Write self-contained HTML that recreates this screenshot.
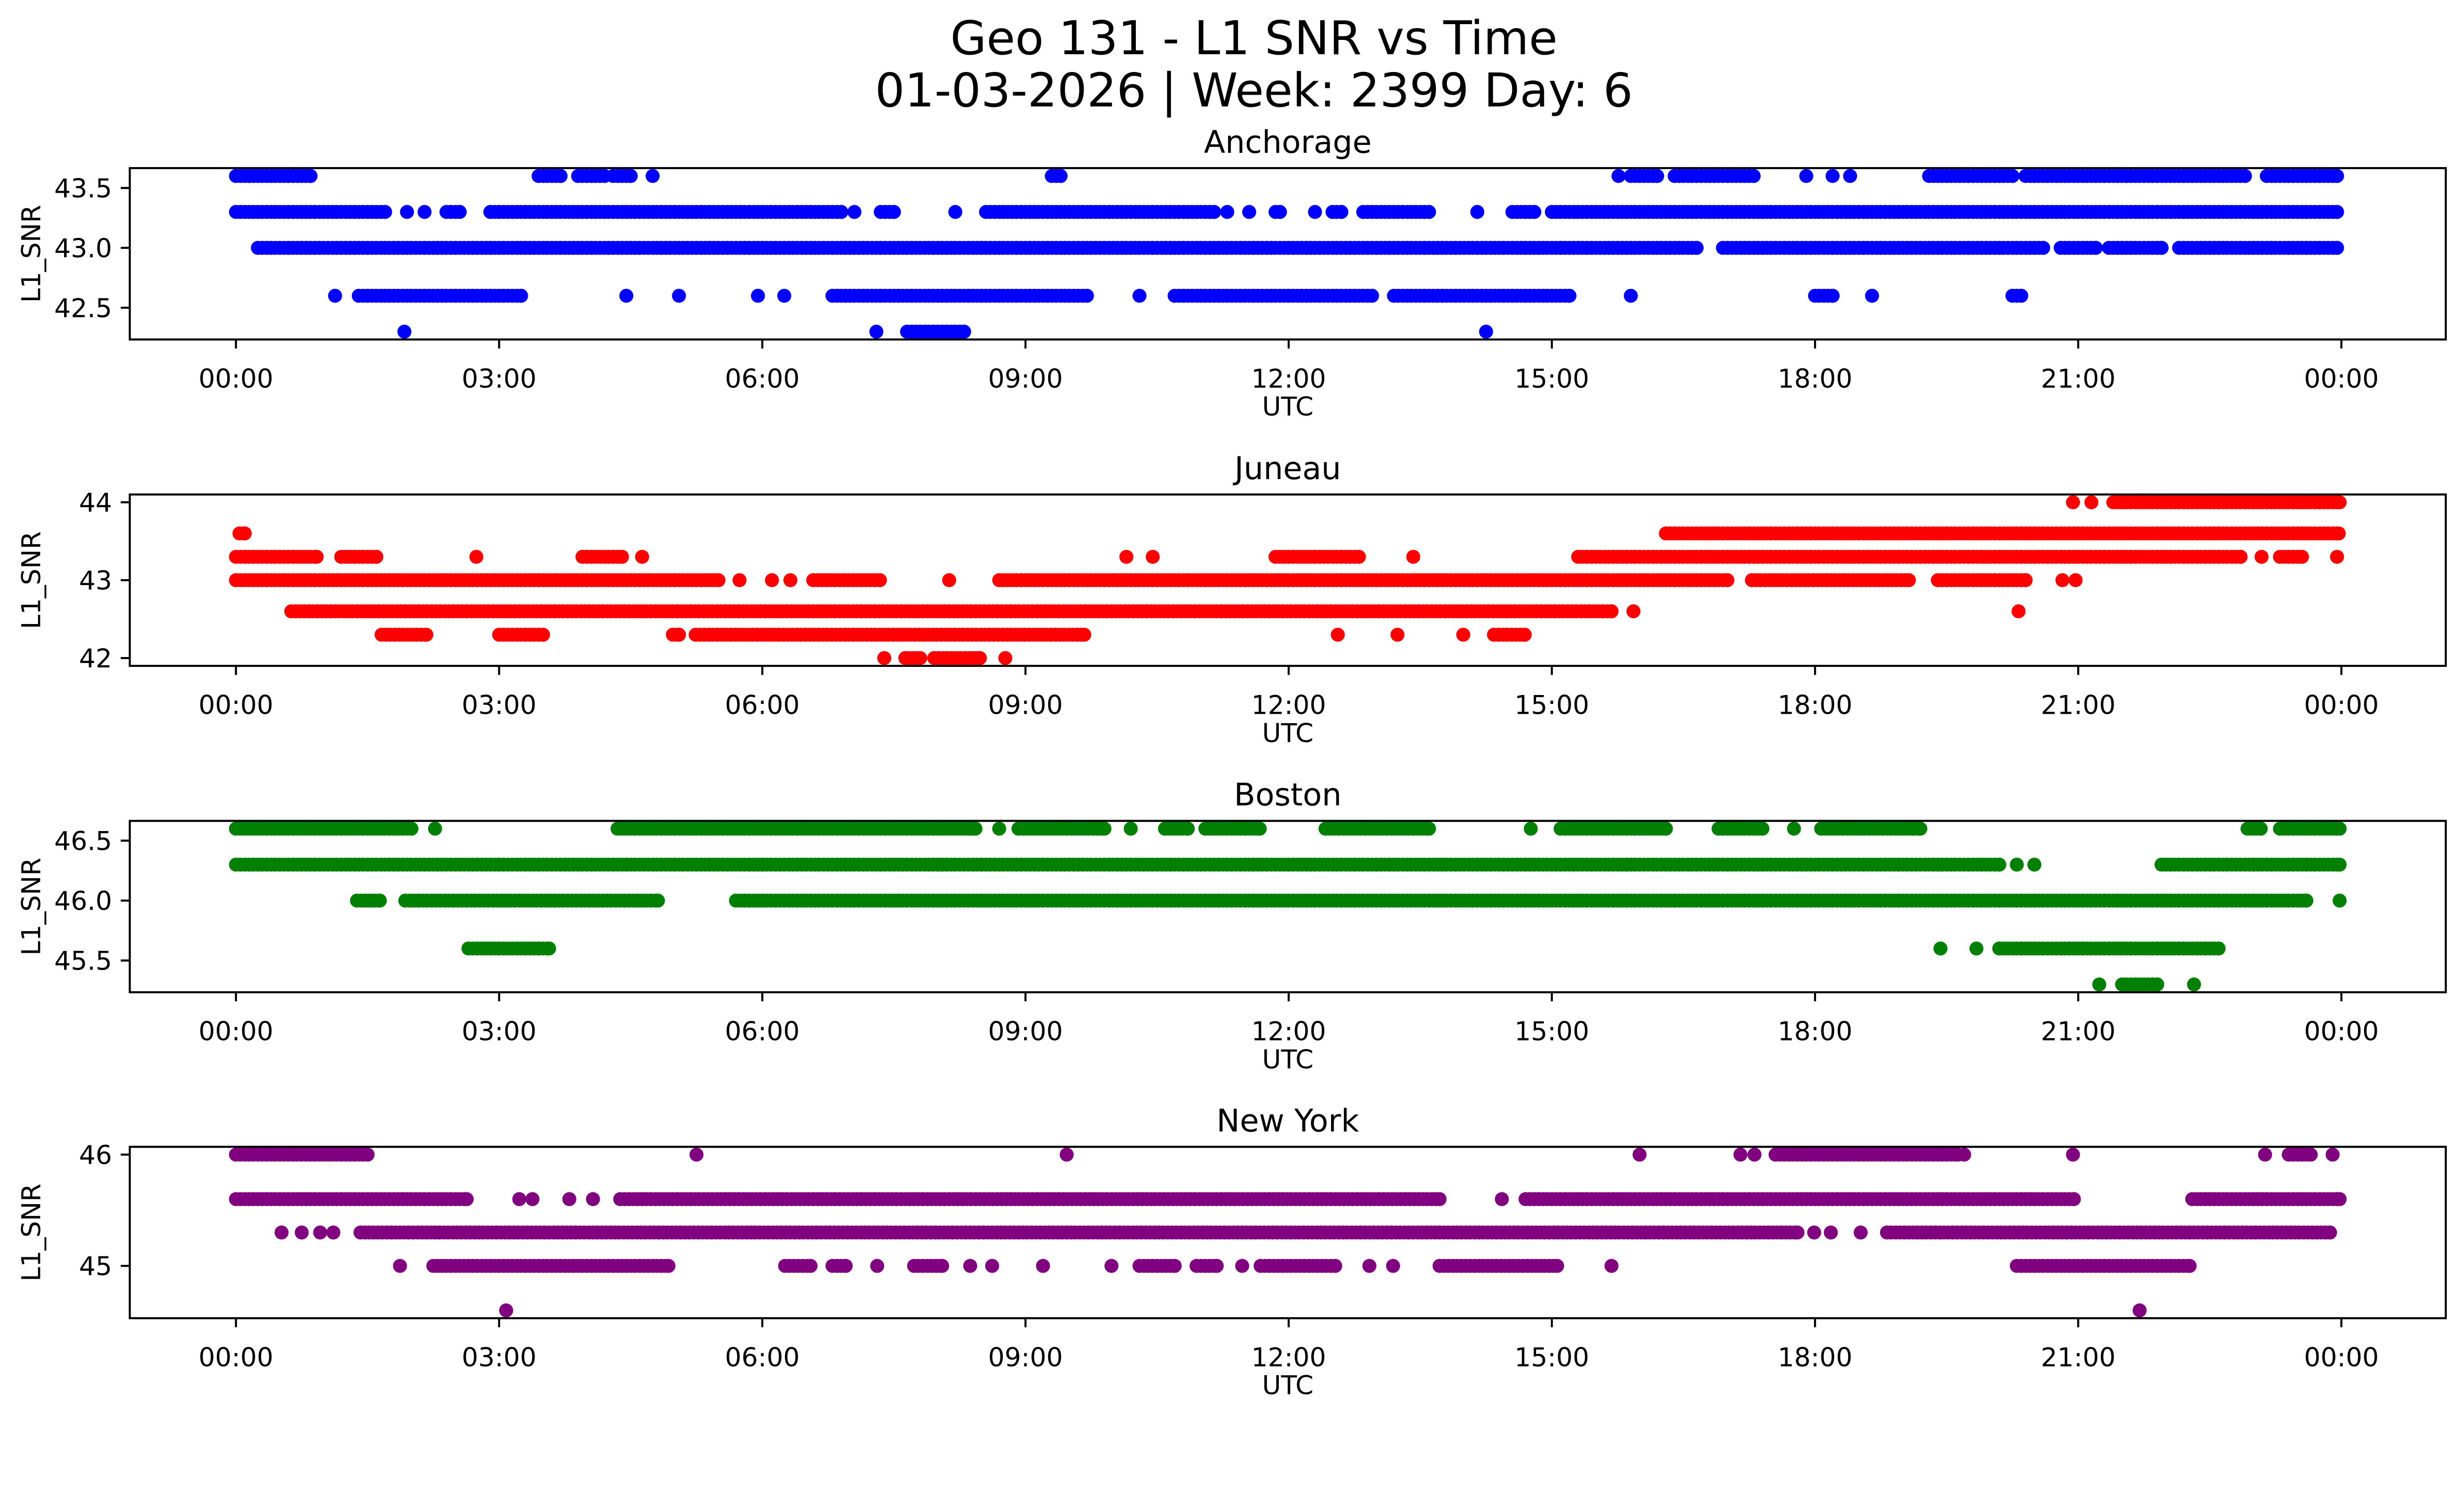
<!DOCTYPE html>
<html><head><meta charset="utf-8"><title>Geo 131 - L1 SNR vs Time</title>
<style>html,body{margin:0;padding:0;background:#fff;overflow:hidden}svg{display:block;width:100vw;height:calc(100vw * 3033 / 5278)}text{font-family:"DejaVu Sans","Liberation Sans",sans-serif;fill:#000}</style>
</head><body>
<svg id="fig" xmlns="http://www.w3.org/2000/svg" viewBox="0 0 5278 3033">
<rect x="0" y="0" width="5278" height="3033" fill="#fff"/>
<text x="2686" y="116" font-size="100" text-anchor="middle">Geo 131 - L1 SNR vs Time</text>
<text x="2686" y="228" font-size="100" text-anchor="middle">01-03-2026 | Week: 2399 Day: 6</text>
<g id="panels"></g>
</svg>
<script>
// x tick labels (hours)
const xTickHours = [0, 3, 6, 9, 12, 15, 18, 21, 24];
const xTickLabels = ["00:00","03:00","06:00","09:00","12:00","15:00","18:00","21:00","00:00"];
// Station names and colours
const stations = ["Anchorage","Juneau","Boston","New York"];
const colors = ["#0000ff","#ff0000","#008000","#800080"];
// y ticks
const yTicksAnchorage = [42.5, 43.0, 43.5];
const yTicksJuneau = [42, 43, 44];
const yTicksBoston = [45.5, 46.0, 46.5];
const yTicksNewYork = [45, 46];
// y limits
const yLimAnchorage = [42.235, 43.666];
const yLimJuneau = [41.9, 44.1];
const yLimBoston = [45.235, 46.665];
const yLimNewYork = [44.53, 46.07];
// Observed runs: [SNR level, start hour, end hour]
const runsAnchorage = [
 [43.6,0,0.85],[43.6,3.45,3.7],[43.6,3.9,4.2],[43.6,4.3,4.5],[43.6,4.75,4.75],[43.6,9.3,9.4],
 [43.6,15.76,15.76],[43.6,15.9,16.2],[43.6,16.4,17.3],[43.6,17.9,17.9],[43.6,18.2,18.2],[43.6,18.4,18.4],[43.6,19.3,20.25],[43.6,20.4,22.9],[43.6,23.15,23.95],
 [43.3,0,1.7],[43.3,1.95,1.95],[43.3,2.15,2.15],[43.3,2.4,2.55],[43.3,2.9,6.9],[43.3,7.05,7.05],[43.3,7.35,7.5],[43.3,8.2,8.2],[43.3,8.55,11.15],[43.3,11.3,11.3],[43.3,11.55,11.55],[43.3,11.85,11.9],
 [43.3,12.3,12.3],[43.3,12.5,12.6],[43.3,12.85,13.6],[43.3,14.15,14.15],[43.3,14.55,14.8],[43.3,15.0,23.95],
 [43.0,0.25,16.65],[43.0,16.95,20.6],[43.0,20.8,21.2],[43.0,21.35,21.95],[43.0,22.15,23.95],
 [42.6,1.13,1.13],[42.6,1.4,3.25],[42.6,4.45,4.45],[42.6,5.05,5.05],[42.6,5.95,5.95],[42.6,6.25,6.25],[42.6,6.8,9.7],[42.6,10.3,10.3],[42.6,10.7,12.95],
 [42.6,13.2,15.2],[42.6,15.9,15.9],[42.6,18.0,18.2],[42.6,18.65,18.65],[42.6,20.25,20.35],
 [42.3,1.92,1.92],[42.3,7.3,7.3],[42.3,7.65,8.3],[42.3,14.25,14.25]
];
const runsJuneau = [
 [44.0,20.94,20.94],[44.0,21.15,21.15],[44.0,21.4,23.98],
 [43.6,0.04,0.1],[43.6,16.3,23.97],
 [43.3,0,0.92],[43.3,1.2,1.6],[43.3,2.74,2.74],[43.3,3.95,4.4],[43.3,4.63,4.63],[43.3,10.15,10.15],[43.3,10.45,10.45],[43.3,11.85,12.8],[43.3,13.42,13.42],
 [43.3,15.3,22.85],[43.3,23.09,23.09],[43.3,23.3,23.55],[43.3,23.95,23.95],
 [43.0,0,5.5],[43.0,5.74,5.74],[43.0,6.11,6.11],[43.0,6.32,6.32],[43.0,6.58,7.34],[43.0,8.13,8.13],[43.0,8.7,17.0],[43.0,17.28,19.07],[43.0,19.4,20.4],[43.0,20.82,20.82],[43.0,20.97,20.97],
 [42.6,0.63,15.68],[42.6,15.93,15.93],[42.6,20.32,20.32],
 [42.3,1.66,2.17],[42.3,3.0,3.5],[42.3,4.98,5.05],[42.3,5.24,9.67],[42.3,12.56,12.56],[42.3,13.24,13.24],[42.3,13.99,13.99],[42.3,14.34,14.69],
 [42.0,7.39,7.39],[42.0,7.63,7.8],[42.0,7.96,8.48],[42.0,8.77,8.77]
];
const runsBoston = [
 [46.6,0,2.0],[46.6,2.27,2.27],[46.6,4.35,8.43],[46.6,8.7,8.7],[46.6,8.92,9.9],[46.6,10.2,10.2],[46.6,10.59,10.85],[46.6,11.05,11.67],
 [46.6,12.42,13.6],[46.6,14.76,14.76],[46.6,15.1,16.3],[46.6,16.9,17.4],[46.6,17.76,17.76],[46.6,18.07,19.2],[46.6,22.93,23.08],[46.6,23.3,23.98],
 [46.3,0,20.1],[46.3,20.3,20.3],[46.3,20.5,20.5],[46.3,21.95,23.98],
 [46.0,1.38,1.64],[46.0,1.93,4.81],[46.0,5.7,23.6],[46.0,23.98,23.98],
 [45.6,2.65,3.57],[45.6,19.43,19.43],[45.6,19.84,19.84],[45.6,20.1,22.6],
 [45.3,21.24,21.24],[45.3,21.5,21.9],[45.3,22.32,22.32]
];
const runsNewYork = [
 [46.0,0,1.5],[46.0,5.25,5.25],[46.0,9.47,9.47],[46.0,16.0,16.0],[46.0,17.15,17.15],[46.0,17.31,17.31],[46.0,17.55,19.63],[46.0,19.7,19.7],[46.0,20.94,20.94],
 [46.0,23.13,23.13],[46.0,23.4,23.65],[46.0,23.9,23.9],
 [45.6,0,2.63],[45.6,3.23,3.23],[45.6,3.38,3.38],[45.6,3.8,3.8],[45.6,4.07,4.07],[45.6,4.38,13.72],[45.6,14.43,14.43],[45.6,14.7,20.95],[45.6,22.3,23.98],
 [45.3,0.52,0.52],[45.3,0.75,0.75],[45.3,0.96,0.96],[45.3,1.11,1.11],[45.3,1.42,17.8],[45.3,17.99,17.99],[45.3,18.18,18.18],[45.3,18.52,18.52],[45.3,18.82,23.87],
 [45.0,1.87,1.87],[45.0,2.25,4.93],[45.0,6.26,6.55],[45.0,6.8,6.95],[45.0,7.31,7.31],[45.0,7.73,8.05],[45.0,8.37,8.37],[45.0,8.62,8.62],[45.0,9.2,9.2],[45.0,9.98,9.98],
 [45.0,10.3,10.7],[45.0,10.95,11.18],[45.0,11.47,11.47],[45.0,11.68,12.53],[45.0,12.92,12.92],[45.0,13.19,13.19],[45.0,13.72,15.06],[45.0,15.68,15.68],[45.0,20.3,22.27],
 [44.6,3.08,3.08],[44.6,21.7,21.7]
];

const NS = "http://www.w3.org/2000/svg";
const AX_L = 278, AX_R = 5239, AX_H = 367;
const panelTops = [360, 1059, 1758, 2456];
const xMin = -1.21, xMax = 25.19;
function xScale(h){ return AX_L + (h - xMin) / (xMax - xMin) * (AX_R - AX_L); }
function makeY(lim, top){ return v => top + AX_H - (v - lim[0]) / (lim[1] - lim[0]) * AX_H; }
function el(tag, attrs, parent){ const e = document.createElementNS(NS, tag); for (const k in attrs) e.setAttribute(k, attrs[k]); parent.appendChild(e); return e; }

const panelsG = document.getElementById("panels");
const allRuns = [runsAnchorage, runsJuneau, runsBoston, runsNewYork];
const allTicks = [yTicksAnchorage, yTicksJuneau, yTicksBoston, yTicksNewYork];
const allLims = [yLimAnchorage, yLimJuneau, yLimBoston, yLimNewYork];
const slug = ["anchorage","juneau","boston","new-york"];

for (let p = 0; p < 4; p++){
  const top = panelTops[p], bottom = top + AX_H;
  const yS = makeY(allLims[p], top);
  const g = el("g", {}, panelsG);
  
  

  const t = el("text", {x:(AX_L+AX_R)/2, y: top - 33, "font-size":66.7, "text-anchor":"middle"}, g);
  t.textContent = stations[p];
  
  

  const pts = el("g", {fill: colors[p]}, g);
  
  
  allRuns[p].forEach(r => {
    const lvl = r[0], s = r[1], e = r[2];
    const y = yS(lvl);
    for (let h = s; h <= e + 1e-9; h += 0.05){
      el("circle", {cx: xScale(h).toFixed(1), cy: y.toFixed(1), r: 15}, pts);
    }
    if (e > s){ el("circle", {cx: xScale(e).toFixed(1), cy: y.toFixed(1), r: 15}, pts); }
  });

  const fr = el("rect", {x:AX_L, y:top, width:AX_R-AX_L, height:AX_H, fill:"none", stroke:"#000", "stroke-width":4.4}, g);
  
  

  xTickHours.forEach((h, i) => {
    const x = xScale(h);
    el("line", {x1:x, x2:x, y1:bottom, y2:bottom+19.4, stroke:"#000", "stroke-width":4.4}, g);
    const lt = el("text", {x:x, y:bottom+103, "font-size":55.6, "text-anchor":"middle"}, g);
    lt.textContent = xTickLabels[i];
    
    
  });
  const xl = el("text", {x:(AX_L+AX_R)/2, y:bottom+163, "font-size":55.6, "text-anchor":"middle"}, g);
  xl.textContent = "UTC";
  
  

  const dec = allTicks[p].some(v => !Number.isInteger(v));
  allTicks[p].forEach(v => {
    const y = yS(v);
    el("line", {x1:AX_L-19.4, x2:AX_L, y1:y, y2:y, stroke:"#000", "stroke-width":4.4}, g);
    const lt = el("text", {x:AX_L-38, y:y+20, "font-size":55.6, "text-anchor":"end"}, g);
    lt.textContent = dec ? v.toFixed(1) : String(v);
    
    
  });
  const cy = top + AX_H/2;
  const yl = el("text", {x:86, y:cy, "font-size":55.6, "text-anchor":"middle", transform:"rotate(-90 86 "+cy+")"}, g);
  yl.textContent = "L1_SNR";
  
  
}
</script>
</body></html>
